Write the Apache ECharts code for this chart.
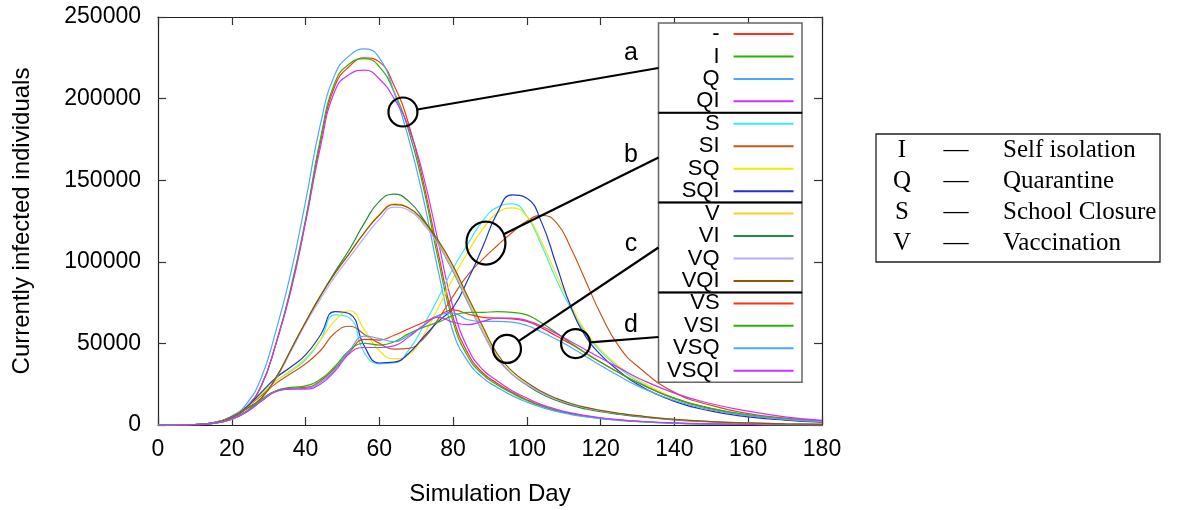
<!DOCTYPE html>
<html>
<head>
<meta charset="utf-8">
<title>Currently infected individuals</title>
<script src="https://cdn.jsdelivr.net/npm/echarts@6/dist/echarts.min.js"></script>
<style>
  html, body { margin: 0; padding: 0; background: #fff; }
  #chart { width: 1182px; height: 510px; }
</style>
</head>
<body>
<div id="chart"></div>
<script>
  // simulation days shared by every series
  const days = [0, 10, 15, 20, 24, 28, 32, 36, 40, 44, 48, 52, 56, 60, 64, 68, 72, 76, 80, 84, 88, 92, 96, 100, 104, 108, 112, 116, 120, 125, 130, 140, 150, 160, 170, 180]
  const xTicks = [0, 20, 40, 60, 80, 100, 120, 140, 160, 180]
  const yTicks = [0, 50000, 100000, 150000, 200000, 250000]

  const seriesNames = ['-', 'I', 'Q', 'QI', 'S', 'SI', 'SQ', 'SQI', 'V', 'VI', 'VQ', 'VQI', 'VS', 'VSI', 'VSQ', 'VSQI']

  // group a
  const base = [0, 300, 1300, 4500, 11000, 24000, 50000, 83000, 125000, 173000, 208000, 220000, 225000, 222500, 208000, 184000, 148000, 105000, 66000, 44000, 32000, 25500, 20000, 15500, 11800, 9000, 7000, 5400, 4200, 3100, 2300, 1200, 650, 350, 180, 90]
  const isoI = [0, 300, 1300, 4500, 11000, 24000, 50000, 84000, 126000, 175000, 210000, 221500, 224500, 219500, 204000, 180000, 145000, 101000, 63000, 42000, 31000, 24500, 19500, 15000, 11500, 8800, 6800, 5300, 4100, 3000, 2200, 1150, 620, 330, 170, 85]
  const quarQ = [0, 300, 1500, 5500, 13000, 29000, 58000, 93000, 137000, 184000, 215000, 226500, 230500, 225000, 204000, 175000, 138000, 94000, 57000, 39000, 29000, 23000, 18000, 14000, 10800, 8300, 6400, 5000, 3900, 2800, 2000, 1050, 570, 300, 150, 75]
  const quarQI = [0, 300, 1300, 4500, 11000, 24000, 50000, 82000, 124000, 170000, 205000, 215000, 217500, 212000, 200000, 182000, 152000, 112000, 72000, 47000, 34000, 27000, 21000, 16500, 12500, 9600, 7400, 5700, 4400, 3200, 2350, 1250, 680, 360, 190, 95]
  // group b
  const schS = [0, 300, 1400, 5000, 11000, 19000, 27000, 33000, 40000, 52000, 67500, 65500, 44000, 37500, 38000, 46000, 61000, 78000, 96000, 111000, 125000, 133500, 135500, 128000, 110000, 89000, 71000, 56000, 45000, 35000, 27000, 16000, 9500, 5600, 3300, 2000]
  const schSI = [0, 300, 1400, 5000, 11000, 18000, 25500, 31500, 37500, 45500, 56500, 60500, 55500, 50000, 46500, 47000, 53000, 65000, 79000, 92000, 101500, 110000, 118000, 125000, 128500, 124000, 108000, 88000, 68000, 48000, 36000, 20000, 12000, 7000, 4200, 2500]
  const schSQ = [0, 300, 1400, 5000, 11000, 19000, 27000, 33500, 41000, 52000, 64000, 70000, 58000, 45500, 40500, 43000, 55000, 72000, 90000, 106000, 120000, 130000, 133000, 128000, 112000, 92000, 73000, 57000, 46000, 36000, 28000, 16500, 9800, 5800, 3400, 2000]
  const schSQI = [0, 300, 1400, 5000, 11000, 20000, 29000, 35500, 43000, 55000, 69500, 68000, 48000, 38000, 38500, 44000, 54000, 63500, 72000, 89000, 109000, 130000, 141000, 139000, 124000, 98000, 72000, 54000, 43000, 33000, 25000, 14500, 8500, 5000, 3000, 1800]
  // group c
  const vacV = [0, 300, 1300, 4500, 10000, 16500, 29000, 46000, 63000, 79000, 93000, 105500, 118000, 129000, 135500, 133000, 124000, 112000, 96000, 77000, 59000, 42000, 31500, 25000, 19500, 15500, 12500, 10200, 8500, 6800, 5400, 3300, 2000, 1200, 700, 420]
  const vacVI = [0, 300, 1300, 4500, 10000, 16500, 29000, 46000, 63000, 79000, 94000, 108000, 124000, 137000, 141500, 137000, 126000, 111000, 94000, 75000, 57000, 41000, 31000, 24500, 19000, 15000, 12000, 9800, 8100, 6500, 5100, 3100, 1900, 1100, 650, 400]
  const vacVQ = [0, 300, 1300, 4500, 10000, 16500, 28500, 45000, 62000, 77000, 91000, 103000, 115000, 126000, 133500, 131500, 123000, 110500, 94500, 75500, 57000, 41000, 31000, 24800, 19700, 15800, 12800, 10500, 8700, 7000, 5600, 3400, 2100, 1250, 730, 440]
  const vacVQI = [0, 300, 1300, 4500, 10000, 16500, 29000, 46000, 63000, 79000, 93000, 105500, 118000, 128500, 135000, 133000, 125000, 113000, 97500, 78500, 60500, 43500, 33000, 26000, 20500, 16300, 13200, 10800, 9000, 7200, 5700, 3500, 2100, 1250, 730, 440]
  // group d
  const vsVS = [0, 200, 1000, 3500, 8500, 15500, 21000, 22500, 23000, 27000, 35000, 45000, 52500, 52000, 55000, 59000, 63000, 67000, 70500, 68000, 66000, 65500, 65000, 63500, 59500, 54500, 49500, 44000, 38500, 32000, 26000, 16300, 10000, 6000, 3500, 2000]
  const vsVSI = [0, 200, 1000, 3500, 8500, 15500, 21000, 23000, 24000, 28000, 36000, 46000, 50000, 49000, 51000, 56000, 60000, 63000, 67000, 69000, 69000, 69500, 69000, 67500, 62500, 56500, 50000, 44000, 38500, 32000, 26000, 16300, 10200, 6200, 3800, 2300]
  const vsVSQ = [0, 200, 1000, 3500, 8000, 14500, 20500, 22000, 22500, 26000, 34000, 46000, 54500, 53000, 51000, 55000, 61000, 67000, 68500, 64500, 63500, 63500, 63000, 61000, 57000, 52500, 47500, 42000, 36500, 30000, 24000, 15000, 9200, 5700, 3400, 2000]
  const vsVSQI = [0, 200, 1000, 3500, 8000, 14500, 20500, 22000, 22000, 25000, 33000, 44000, 47500, 47500, 48500, 54000, 61000, 66000, 63000, 61500, 63500, 65500, 65500, 64000, 60500, 56000, 51000, 46000, 41000, 35000, 29000, 19500, 13000, 8500, 5000, 2800]

  const seriesValues = [base, isoI, quarQ, quarQI, schS, schSI, schSQ, schSQI, vacV, vacVI, vacVQ, vacVQI, vsVS, vsVSI, vsVSQ, vsVSQI]

  // annotation circles (data coords) and their labels
  const groupLabels = ['a', 'b', 'c', 'd']
  const notePoints = [[66.4, 191800], [88.9, 111500], [94.6, 46600], [113.2, 49900]]

  const tableKeys = ['I', 'Q', 'S', 'V']
  const tableLabels = ['Self isolation', 'Quarantine', 'School Closure', 'Vaccination']

  const colors = ['#ff3311', '#2db400', '#4da6ff', '#cc33ff',
                  '#3ee8f0', '#c8561a', '#f2ea00', '#2233cc',
                  '#ffcc22', '#238b45', '#bba8ff', '#8b5a00',
                  '#ff3311', '#2db400', '#4da6ff', '#cc33ff']

  const sans = 'Liberation Sans, Arial, Helvetica, sans-serif'
  const serif = 'Liberation Serif, Times New Roman, serif'

  let chart = echarts.init(document.getElementById('chart'))

  function frameAxis(pos, ticks, showLabel) {
    return {
      type: 'value',
      position: pos,
      min: ticks[0],
      max: ticks[ticks.length - 1],
      interval: ticks[1] - ticks[0],
      axisLine: { show: true, onZero: false, lineStyle: { color: '#222', width: 1.2 } },
      axisTick: { show: true, inside: true, length: 8, lineStyle: { color: '#333', width: 1.2 } },
      axisLabel: {
        show: showLabel,
        fontSize: 23,
        fontFamily: sans,
        color: '#000',
        formatter: v => String(v)
      },
      splitLine: { show: false }
    }
  }

  let xBottom = frameAxis('bottom', xTicks, true)
  xBottom.axisLabel.margin = 13
  xBottom.name = 'Simulation Day'
  xBottom.nameLocation = 'middle'
  xBottom.nameGap = 57
  xBottom.nameTextStyle = { fontSize: 24, fontFamily: sans, color: '#000' }

  let yLeft = frameAxis('left', yTicks, true)
  yLeft.axisLabel.margin = 17
  yLeft.name = 'Currently infected individuals'
  yLeft.nameLocation = 'middle'
  yLeft.nameGap = 124
  yLeft.nameTextStyle = { fontSize: 24, fontFamily: sans, color: '#000' }

  chart.setOption({
    animation: false,
    grid: { left: 158, right: 360, top: 17, bottom: 85, containLabel: false, outerBoundsMode: 'none' },
    xAxis: [xBottom, frameAxis('top', xTicks, false)],
    yAxis: [yLeft, frameAxis('right', yTicks, false)],
    legend: {
      data: seriesNames,
      orient: 'vertical',
      align: 'right',
      left: 667,
      top: 23,
      padding: 0,
      icon: 'rect',
      itemWidth: 60,
      itemHeight: 2,
      itemGap: 0.45,
      selectedMode: false,
      textStyle: { fontSize: 22, fontFamily: sans, color: '#000', width: 56, align: 'right', padding: [0, 9, 0, 0] },
      z: 10
    },
    series: seriesNames.map((name, i) => ({
      name: name,
      type: 'line',
      xAxisIndex: 0,
      yAxisIndex: 0,
      data: days.map((d, k) => [d, seriesValues[i][k]]),
      smooth: true,
      symbol: 'none',
      lineStyle: { width: 1.2, color: colors[i] },
      itemStyle: { color: colors[i] },
      emphasis: { disabled: true },
      z: 2
    }))
  })

  // legend boxes, annotation circles and the side table
  const boxL = 658.5, boxW = 143.5, boxTop = 23, boxH = 89.8
  const radii = [[14.5, 14.5], [19.5, 21.5], [14, 14], [14.5, 14.5]]
  const targetY = [68, 157.5, 247.5, 337]
  const labelY = [53.5, 155, 244.5, 325]
  let graphics = []

  groupLabels.forEach((lab, i) => {
    graphics.push({
      type: 'rect', z: 3,
      shape: { x: boxL, y: boxTop + i * boxH, width: boxW, height: boxH },
      style: { fill: '#fff', stroke: '#666', lineWidth: 1.5 }
    })
  })
  for (let i = 1; i < 4; i++) {
    graphics.push({
      type: 'line', z: 4,
      shape: { x1: boxL, y1: boxTop + i * boxH, x2: boxL + boxW, y2: boxTop + i * boxH },
      style: { stroke: '#000', lineWidth: 2 }
    })
  }

  notePoints.forEach((pt, i) => {
    let c = chart.convertToPixel({ seriesIndex: 0 }, pt)
    let rx = radii[i][0], ry = radii[i][1]
    let dx = boxL - c[0], dy = targetY[i] - c[1]
    let len = Math.sqrt(dx * dx + dy * dy)
    let ux = dx / len, uy = dy / len
    let t = 1 / Math.sqrt((ux / rx) * (ux / rx) + (uy / ry) * (uy / ry))
    graphics.push({
      type: 'ellipse', z: 6,
      shape: { cx: c[0], cy: c[1], rx: rx, ry: ry },
      style: { fill: 'none', stroke: '#000', lineWidth: 2.2 }
    })
    graphics.push({
      type: 'line', z: 6,
      shape: { x1: c[0] + ux * t, y1: c[1] + uy * t, x2: boxL, y2: targetY[i] },
      style: { stroke: '#000', lineWidth: 2.2 }
    })
    graphics.push({
      type: 'text', z: 6, x: 631, y: labelY[i],
      style: { text: groupLabels[i], fontSize: 25, fontFamily: sans, fill: '#000', align: 'center', verticalAlign: 'middle' }
    })
  })

  graphics.push({
    type: 'rect', z: 3,
    shape: { x: 876, y: 134, width: 284, height: 128 },
    style: { fill: 'none', stroke: '#222', lineWidth: 1.3 }
  })
  const rowY = [150, 181, 212, 243]
  tableKeys.forEach((k, i) => {
    graphics.push({
      type: 'text', z: 6, x: 902, y: rowY[i],
      style: { text: k, fontSize: 25, fontFamily: serif, fill: '#000', align: 'center', verticalAlign: 'middle' }
    })
    graphics.push({
      type: 'text', z: 6, x: 956, y: rowY[i],
      style: { text: '\u2014', fontSize: 25, fontFamily: serif, fill: '#000', align: 'center', verticalAlign: 'middle' }
    })
    graphics.push({
      type: 'text', z: 6, x: 1003, y: rowY[i],
      style: { text: tableLabels[i], fontSize: 25, fontFamily: serif, fill: '#000', align: 'left', verticalAlign: 'middle' }
    })
  })

  chart.setOption({ graphic: { elements: graphics } })
</script>
</body>
</html>
